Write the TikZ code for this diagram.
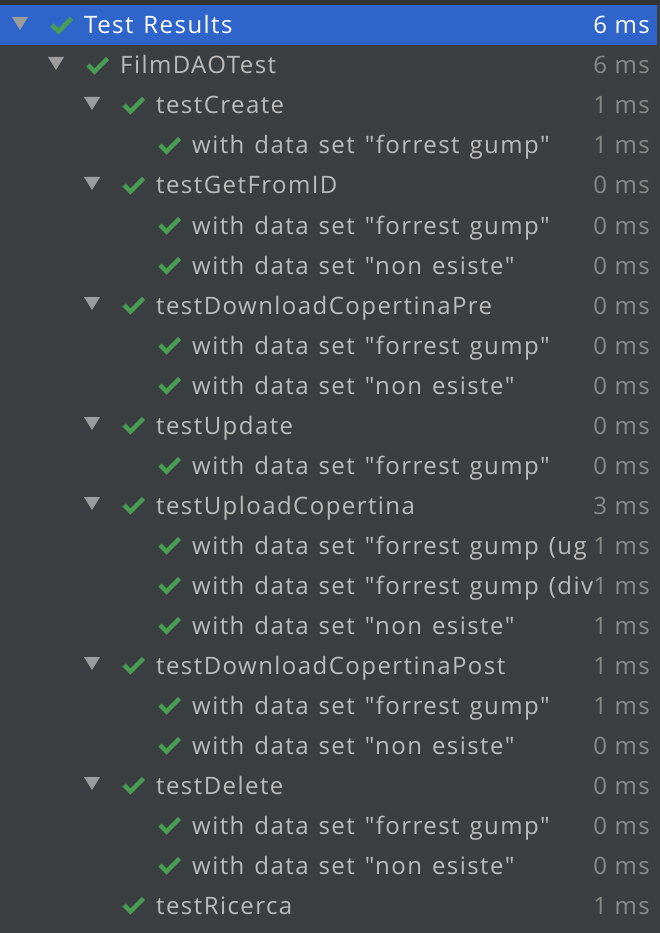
\documentclass[tikz,border=0pt]{standalone}
\usepackage{fontspec}
\setmainfont{Open Sans}[Ligatures=TeXOff, LetterSpace=6, WordSpace=1.3]
\definecolor{panel}{HTML}{3C3F41}
\definecolor{panedge}{HTML}{313335}
\definecolor{selrow}{HTML}{2F65CA}
\definecolor{okgreen}{HTML}{499C54}
\definecolor{foldgray}{HTML}{9C9C9C}
\definecolor{namegray}{HTML}{BBBBBB}
\definecolor{durgray}{HTML}{8A8A8A}
\tikzset{
  label/.style={anchor=base west, inner sep=0pt, text=namegray,
    font=\fontsize{24}{24}\selectfont},
  duration/.style={anchor=base east, inner sep=0pt, text=durgray,
    font=\fontsize{24}{24}\selectfont},
  okmark/.style={draw=okgreen, line width=4.5pt, line join=miter},
  foldmark/.style={fill=foldgray},
}
% check mark and fold triangle at level #1, row centre #2
\newcommand{\okat}[2]{\draw [okmark] ({52+36*#1},{#2}) -- ++(6.5,6.5) -- ++(13,-13);}
\newcommand{\foldat}[2]{\fill [foldmark] ({12+36*#1},{#2-8}) -- ++(16,0) -- ++(-8,13) -- cycle;}
\newcommand{\msof}[1]{#1\hspace{7.5pt}ms}
\begin{document}
\begin{tikzpicture}[x=1pt, y=-1pt]
  \useasboundingbox [fill=panel] (0,0) rectangle (660,933);
  \fill [panedge] (0,0) rectangle (660,5);
  \fill [selrow] (0,5) rectangle (657,45);

  % root row
  \foldat{0}{25}
  \okat{0}{25}
  \node (t0) [label, text=white] at (84,34) {Test Results};
  \node (ms0) [duration, text=white] at (650,34) {\msof{6}};

  % tree rows: row/level/name/time/folded
  \foreach \r/\lv/\txt/\tm/\fd in {
      1/1/FilmDAOTest/6/1,
      2/2/testCreate/1/1,
      3/3/with data set "forrest gump"/1/0,
      4/2/testGetFromID/0/1,
      5/3/with data set "forrest gump"/0/0,
      6/3/with data set "non esiste"/0/0,
      7/2/testDownloadCopertinaPre/0/1,
      8/3/with data set "forrest gump"/0/0,
      9/3/with data set "non esiste"/0/0,
      10/2/testUpdate/0/1,
      11/3/with data set "forrest gump"/0/0,
      12/2/testUploadCopertina/3/1,
      15/3/with data set "non esiste"/1/0,
      16/2/testDownloadCopertinaPost/1/1,
      17/3/with data set "forrest gump"/1/0,
      18/3/with data set "non esiste"/0/0,
      19/2/testDelete/0/1,
      20/3/with data set "forrest gump"/0/0,
      21/3/with data set "non esiste"/0/0,
      22/2/testRicerca/1/0} {
    \pgfmathsetmacro{\cy}{25+40*\r}
    \ifnum\fd=1 \foldat{\lv}{\cy} \fi
    \okat{\lv}{\cy}
    \node (t\r) [label] at ({84+36*\lv},{\cy+9}) {\txt};
    \node (ms\r) [duration] at (650,{\cy+9}) {\msof{\tm}};
  }

  % rows cut off by the duration column
  \foreach \r/\txt in {13/with data set "forrest gump (ug, 14/with data set "forrest gump (div} {
    \pgfmathsetmacro{\cy}{25+40*\r}
    \okat{3}{\cy}
    \begin{scope}
      \clip (0,{\cy-20}) rectangle (592,{\cy+20});
      \node (t\r) [label] at (192,{\cy+9}) {\txt};
    \end{scope}
    \node (ms\r) [duration] at (650,{\cy+9}) {\msof{1}};
  }
\end{tikzpicture}
\end{document}
